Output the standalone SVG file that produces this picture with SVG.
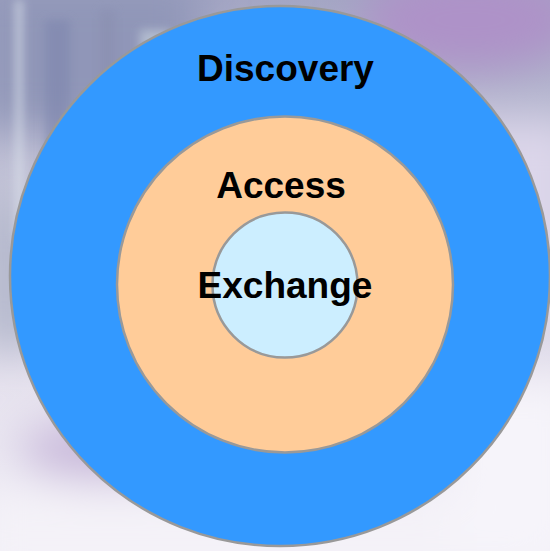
<svg xmlns="http://www.w3.org/2000/svg" width="550" height="551" viewBox="0 0 550 551">
  <defs>
    <linearGradient id="bg" x1="0" y1="0" x2="0" y2="1">
      <stop offset="0" stop-color="#a4a6c4"/>
      <stop offset="0.35" stop-color="#c4c4d8"/>
      <stop offset="0.7" stop-color="#e6e2ee"/>
      <stop offset="1" stop-color="#f0eef6"/>
    </linearGradient>
    <filter id="blur" x="-50%" y="-50%" width="200%" height="200%">
      <feGaussianBlur stdDeviation="22"/>
    </filter>
    <filter id="blur2" x="-50%" y="-50%" width="200%" height="200%">
      <feGaussianBlur stdDeviation="5"/>
    </filter>
    <style>
      .ring { stroke: #999999; stroke-width: 2.5; }
      .label { font-family: "Liberation Sans", Arial, sans-serif; font-weight: bold; font-size: 37px; fill: #000000; text-anchor: middle; }
    </style>
  </defs>

  <g id="background">
    <rect x="0" y="0" width="550" height="551" fill="url(#bg)"/>
    <g filter="url(#blur)">
      <rect x="-20" y="-20" width="220" height="150" fill="#9096b8"/>
      <ellipse cx="470" cy="20" rx="110" ry="50" fill="#ae92c8"/>
      <rect x="440" y="120" width="140" height="200" fill="#dcd6ea"/>
      <rect x="-20" y="200" width="60" height="150" fill="#b4b8cc"/>
      <ellipse cx="110" cy="450" rx="90" ry="30" fill="#c8b8da"/>
      <rect x="-20" y="490" width="570" height="90" fill="#f4f2f8"/>
      <rect x="450" y="380" width="130" height="180" fill="#f6f4fa"/>
    </g>
    <g filter="url(#blur2)" opacity="0.6">
      <rect x="15" y="0" width="8" height="240" fill="#dfe6ee"/>
      <rect x="45" y="20" width="25" height="160" fill="#7e86ae"/>
      <rect x="100" y="10" width="15" height="110" fill="#8a8fb0"/>
      <rect x="140" y="30" width="30" height="80" fill="#c8d4de"/>
    </g>
  </g>

  <g id="discovery">
    <circle class="ring" cx="280" cy="276" r="270" fill="#3399ff"/>
    <text class="label" x="285.5" y="81">Discovery</text>
  </g>

  <g id="access">
    <circle class="ring" cx="285" cy="284.5" r="168" fill="#ffcc99"/>
    <text class="label" x="281" y="198">Access</text>
  </g>

  <g id="exchange">
    <circle class="ring" cx="285" cy="285" r="72.5" fill="#cceeff"/>
    <text class="label" x="285" y="298">Exchange</text>
  </g>
</svg>
